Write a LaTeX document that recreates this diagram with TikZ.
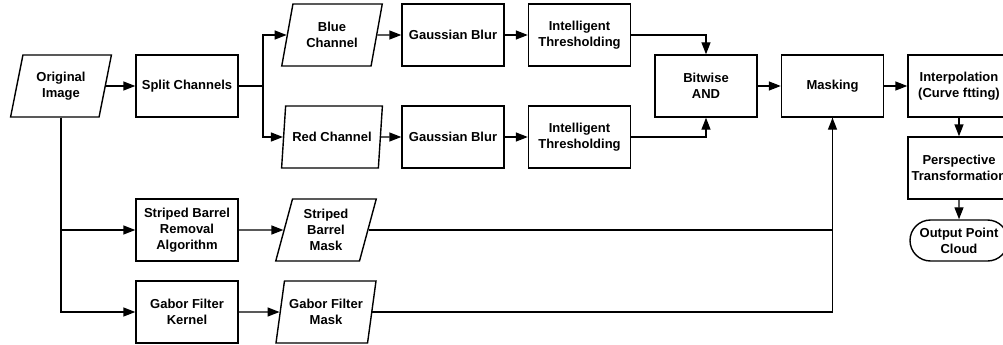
\documentclass[tikz,border=0pt]{standalone}
\usepackage{fontspec}
\setmainfont{Liberation Sans}
\usetikzlibrary{shapes.geometric,shapes.misc,arrows.meta}

\tikzstyle{blk}=[draw,rectangle,minimum width=102pt,minimum height=62pt,align=center,inner sep=2pt]
\tikzstyle{io}=[draw,trapezium,trapezium left angle=75,trapezium right angle=105,trapezium stretches=true,minimum width=101pt,minimum height=62pt,align=center,inner sep=2pt]
\tikzstyle{term}=[draw,rounded rectangle,minimum width=102pt,minimum height=41pt,align=center,inner sep=2pt]

\begin{document}
\begin{tikzpicture}[x=1pt,y=-1pt,line width=1.4pt,>={Triangle[length=12pt,width=9pt]},font=\fontsize{13}{16}\selectfont\bfseries]
  \useasboundingbox (0,0) rectangle (1003,345);

  \node[io] (orig) at (61,86) {Original\\Image};
  \node[blk] (split) at (187,86) {Split Channels};
  \coordinate (fork) at (263,86);

  \node[io] (blue) at (332,35) {Blue\\Channel};
  \node[blk] (gblue) at (453,35) {Gaussian Blur};
  \node[blk] (tblue) at (579.5,35) {Intelligent\\Thresholding};

  \node[io] (red) at (332,137) {Red Channel};
  \node[blk] (gred) at (453,137) {Gaussian Blur};
  \node[blk] (tred) at (579.5,137) {Intelligent\\Thresholding};

  \node[blk] (andop) at (706,86) {Bitwise\\AND};
  \node[blk] (mask) at (832.5,86) {Masking};
  \node[blk] (interp) at (959,86) {Interpolation\\(Curve ftting)};
  \node[blk] (persp) at (959,168) {Perspective\\Transformation};
  \node[term] (cloud) at (959,240.5) {Output Point\\Cloud};

  \node[blk] (sbra) at (187,230) {Striped Barrel\\Removal\\Algorithm};
  \node[io] (sbmask) at (326,230) {Striped\\Barrel\\Mask};
  \node[blk] (gabor) at (187,312) {Gabor Filter\\Kernel};
  \node[io] (gbmask) at (326,312) {Gabor Filter\\Mask};

  % colour channels
  \path (orig) edge [->] (split);
  \draw (split) -- (fork);
  \draw[->] (fork) |- (blue);
  \draw[->] (fork) |- (red);
  \path (blue) edge [->] (gblue);
  \path (gblue) edge [->] (tblue);
  \path (red) edge [->] (gred);
  \path (gred) edge [->] (tred);
  \draw[->] (tblue) -| (andop);
  \draw[->] (tred) -| (andop);

  \path (andop) edge [->] (mask);
  \path (mask) edge [->] (interp);
  \path (interp) edge [->] (persp);
  \path (persp) edge [->] (cloud);

  % masks
  \draw[->] (orig.center |- orig.south) |- (sbra);
  \draw[->] (orig.center |- orig.south) |- (gabor);
  \path (sbra) edge [->] (sbmask);
  \path (gabor) edge [->] (gbmask);
  \draw (sbmask) -| (mask.south);
  \draw[->] (gbmask) -| (mask);

\end{tikzpicture}
\end{document}
